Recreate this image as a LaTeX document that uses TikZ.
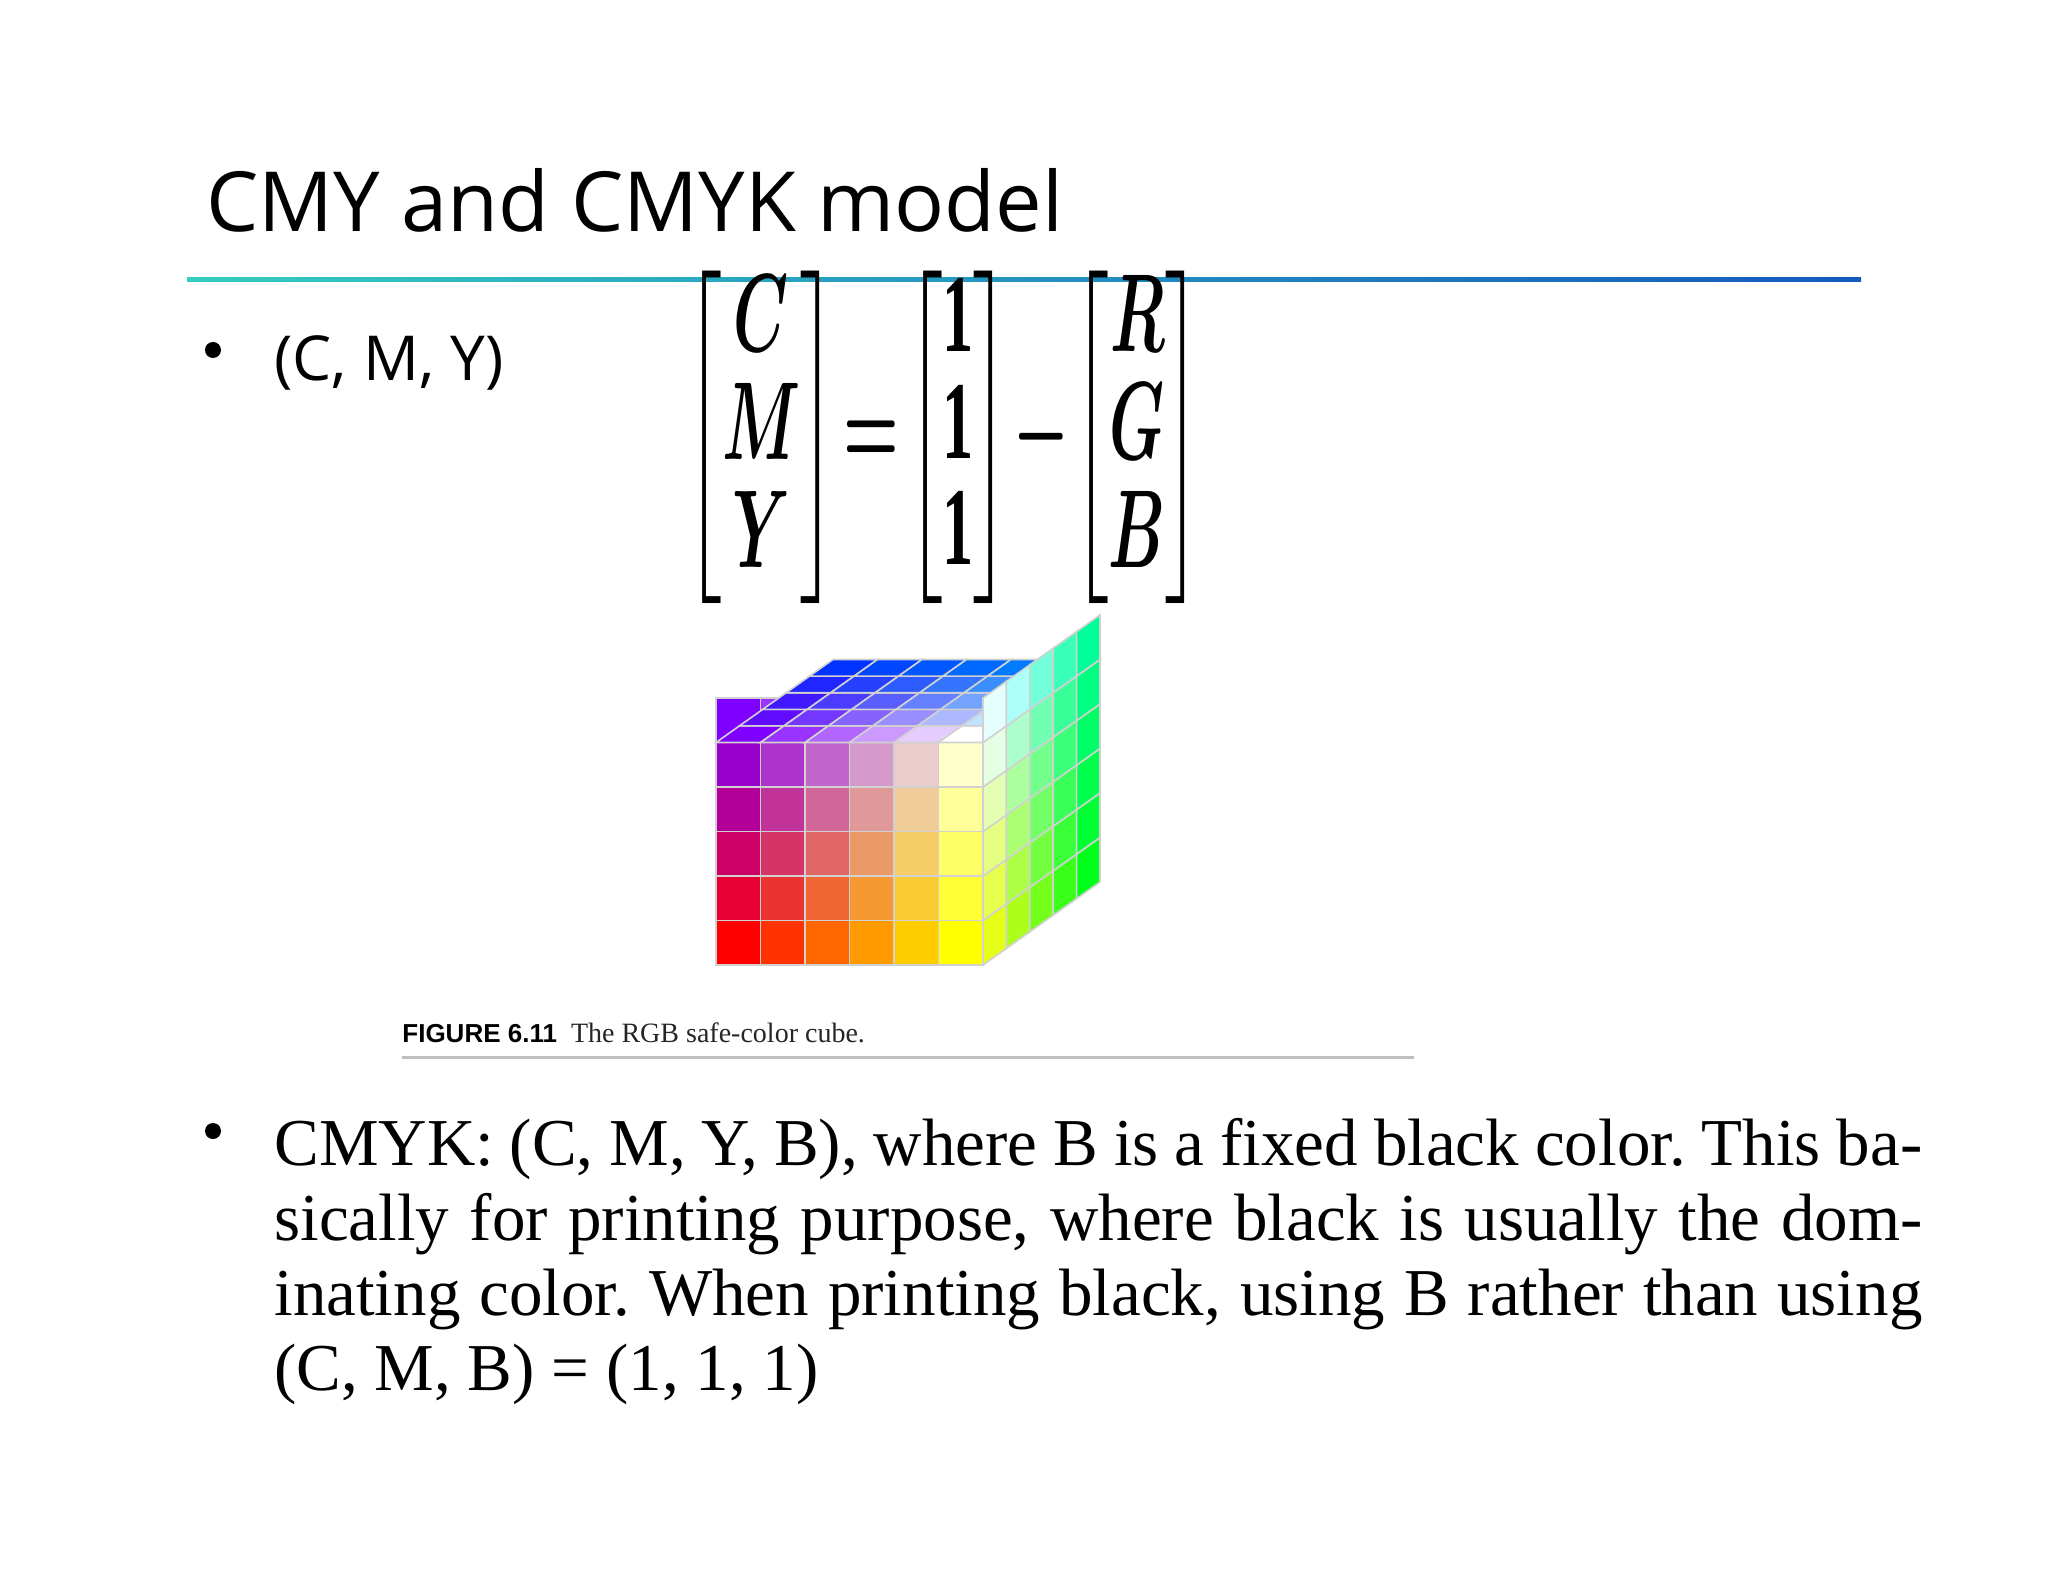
\documentclass[tikz,border=0pt]{standalone}
\usepackage{amsmath,bm}
\usepackage{fontspec}
\setmainfont{Liberation Serif}
\newfontfamily\osans{Open Sans}
\newfontfamily\capsans{Liberation Sans}
\begin{document}
\begin{tikzpicture}[x=0.5pt,y=-0.5pt,
  cell/.style={draw=black!18,line width=0.8pt},
  bul/.style={circle,fill=black,inner sep=0pt,minimum size=8pt}]
\useasboundingbox (0,0) rectangle (2048,1582);
\fill[white] (0,0) rectangle (2048,1582);
% title
\node[anchor=base west,inner sep=0pt,font=\osans\fontsize{41.5}{50}\selectfont] (title) at (206,232) {CMY and CMYK model};
\shade[left color={rgb,1:red,0.2;green,0.8;blue,0.75},right color={rgb,1:red,0.08;green,0.35;blue,0.75}] (187,278) rectangle (1861,282);
% bullet 1
\node[bul] (b1) at (213,350) {};
\node[anchor=base west,inner sep=0pt,font=\osans\fontsize{31}{36}\selectfont] (t1) at (274,381) {(C, M, Y)};
\node[inner sep=0pt] (eq) at (944,437)
 {\resizebox{258pt}{97pt}{$\renewcommand\arraystretch{0.8}\left[\begin{matrix} \bm{C}\\ \bm{M}\\ \bm{Y}\end{matrix}\right]\!\bm{=}\!\left[\begin{matrix} \mathbf{1}\\ \mathbf{1}\\ \mathbf{1}\end{matrix}\right]\!\bm{-}\!\left[\begin{matrix} \bm{R}\\ \bm{G}\\ \bm{B}\end{matrix}\right]$}};
% cube
\def\cs{44.5}\def\dx{23.4}\def\dy{-16.6}
\foreach \i in {0,...,5}{\foreach \j in {0,...,5}{
  \pgfmathsetmacro\g{\i/5}\pgfmathsetmacro\b{\j/5}
  \pgfmathsetmacro\r{1-0.5*\b*(1-\g)}
  \definecolor{cc}{rgb}{\r,\g,\b}
  \filldraw[cell,fill=cc] (716+\i*\cs,965-\j*\cs) rectangle ++(\cs,-\cs);
}}
% top face
\foreach \i in {0,...,5}{\foreach \k in {0,...,4}{
  \pgfmathsetmacro\g{\i/5}\pgfmathsetmacro\r{(1-\k/4)*(1-0.5*(1-\g))}
  \pgfmathsetmacro\gg{\g*(0.55+0.45*(1-\k/4))+0.2*(1-\g)*(\k/4)}
  \definecolor{cc}{rgb}{\r,\gg,1}
  \filldraw[cell,fill=cc] (716+\i*\cs+\k*\dx,742.5+\k*\dy) -- ++(\cs,0) -- ++(\dx,\dy) -- ++(-\cs,0) -- cycle;
}}
% side face
\foreach \k in {0,...,4}{\foreach \j in {0,...,5}{
  \pgfmathsetmacro\b{\j/5}\pgfmathsetmacro\r{(1-\k/4)*0.9}
  \pgfmathsetmacro\bb{\b*(0.5+0.5*(1-\k/4))+0.1}
  \definecolor{cc}{rgb}{\r,1,\bb}
  \filldraw[cell,fill=cc] (983+\k*\dx,965-\j*\cs+\k*\dy) -- ++(\dx,\dy) -- ++(0,-\cs) -- ++(-\dx,-\dy) -- cycle;
}}
% caption
\node[anchor=base west,inner sep=0pt] (cap) at (402,1042)
 {{\capsans\bfseries\fontsize{13}{16}\selectfont FIGURE 6.11}\hspace{7pt}{\fontsize{14}{16}\selectfont\color{black!85}The RGB safe-color cube.}};
\draw[black!25,line width=1.5pt] (402,1057) -- (1414,1057);
% bullet 2
\node[bul] (b2) at (213,1131) {};
\node[anchor=north west,inner sep=0pt,text width=824pt,align=justify,font=\fontsize{33.5}{37.5}\selectfont] (t2) at (274,1118)
 {\hyphenpenalty=10000\exhyphenpenalty=10000\frenchspacing CMYK: (C, M, Y, B), where B is a fixed black color. This basically for printing purpose, where black is usually the dominating color. When printing black, using B rather than using (C, M, B) = (1, 1, 1)};
\end{tikzpicture}
\end{document}
